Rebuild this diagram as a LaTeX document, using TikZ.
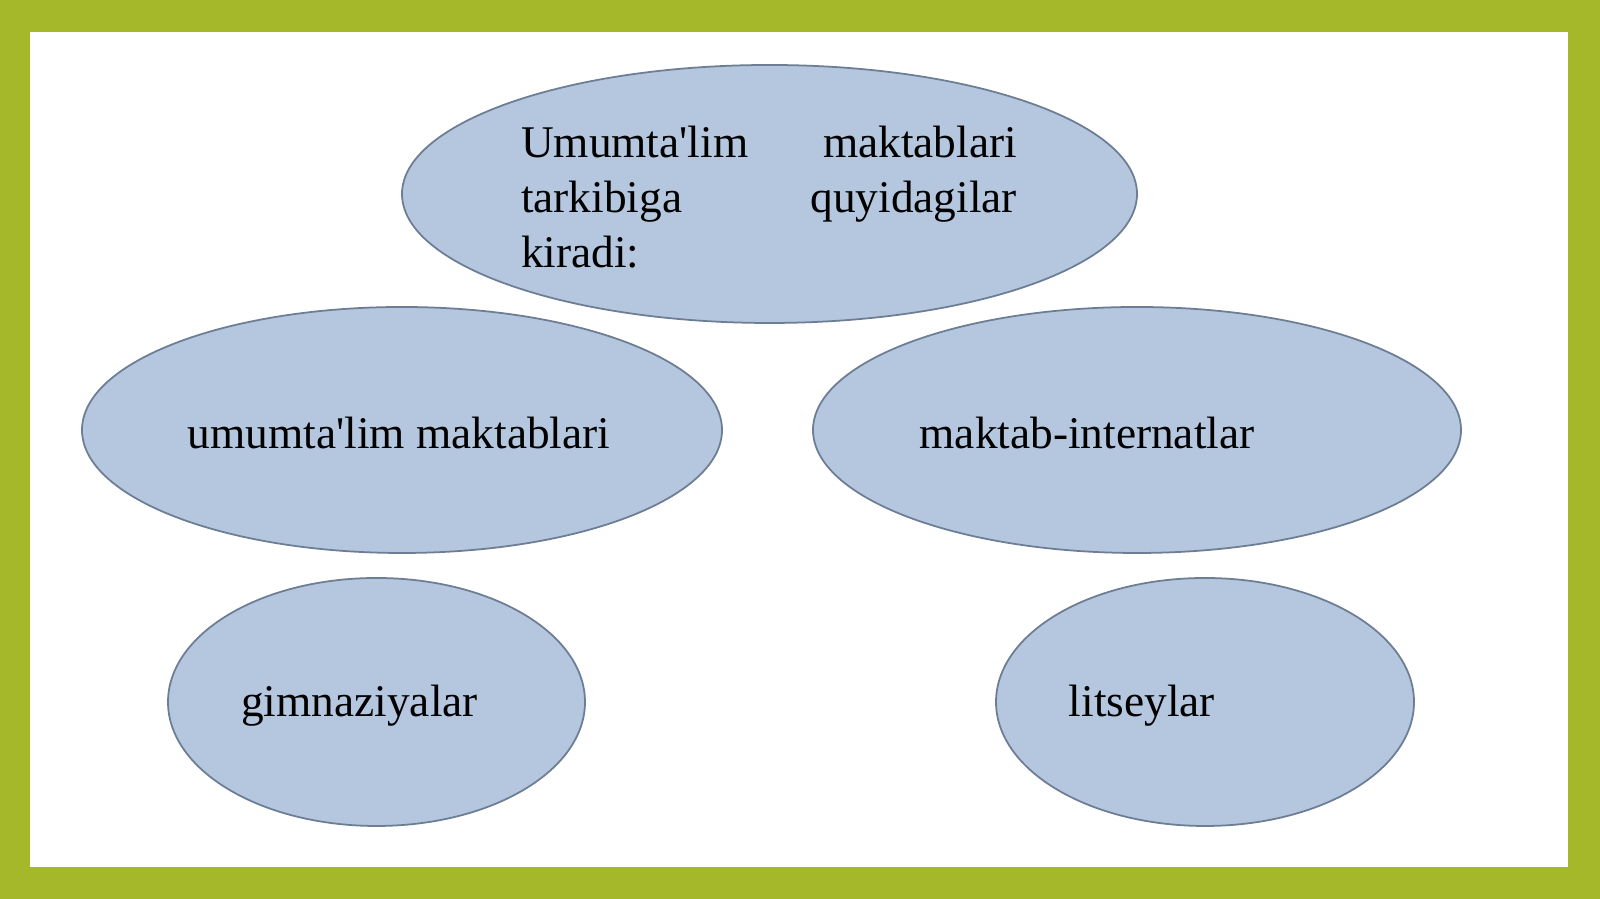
\documentclass[tikz,border=0pt]{standalone}
\usepackage{fontspec}
\setmainfont{Liberation Serif}
\usetikzlibrary{shapes.geometric}
\definecolor{frameolive}{HTML}{A5B829}
\definecolor{ovalblue}{HTML}{B4C7DE}
\definecolor{ovalline}{HTML}{6C7D94}

\begin{document}
\begin{tikzpicture}
        \tikzset{
          oval/.style={ellipse, draw=ovalline, line width=0.5pt, fill=ovalblue, inner sep=0pt},
          ovaltext/.style={font=\fontsize{12.9}{15.65}\selectfont, inner sep=0pt}
        }
        % Frame
        \fill[frameolive] (0,0) rectangle (16,8.99);
        \fill[white] (0.30,0.32) rectangle (15.68,8.67);

        % Top oval
        \node[oval, minimum width=7.35cm, minimum height=2.58cm] (whole) at (7.695,7.05) {};
        \node[ovaltext, text width=4.96cm, align=justify] (wholetext) at (7.69,7.02)
          {Umumta\textquotesingle lim maktablari tarkibiga quyidagilar \mbox{kiradi:}};

        % Middle ovals
        \node[oval, minimum width=6.40cm, minimum height=2.46cm] (general) at (4.02,4.69) {};
        \node[ovaltext] (generaltext) at (3.99,4.66) {umumta\textquotesingle lim maktablari};
        \node[oval, minimum width=6.48cm, minimum height=2.46cm] (boarding) at (11.37,4.69) {};
        \node[ovaltext] (boardingtext) at (10.87,4.66) {maktab-internatlar};

        % Bottom ovals
        \node[oval, minimum width=4.17cm, minimum height=2.48cm] (gymn) at (3.765,1.97) {};
        \node[ovaltext] (gymntext) at (3.595,1.93) {gimnaziyalar};
        \node[oval, minimum width=4.18cm, minimum height=2.48cm] (lyceum) at (12.05,1.97) {};
        \node[ovaltext] (lyceumtext) at (11.42,1.93) {litseylar};
      \end{tikzpicture}
\end{document}
